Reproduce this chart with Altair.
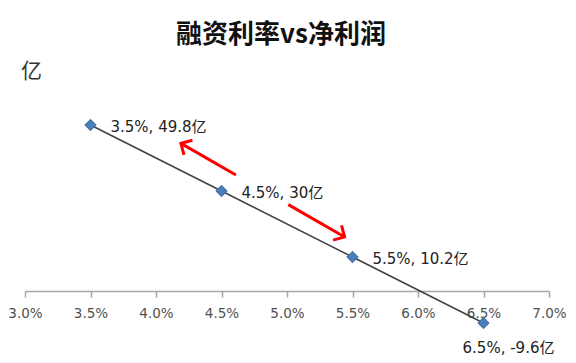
import altair as alt
import pandas as pd

# ---- data ----
rates = [3.5, 4.5, 5.5, 6.5]            # financing rate, %
profits = [49.8, 30.0, 10.2, -9.6]     # net profit, 亿
labels = ["3.5%, 49.8亿", "4.5%, 30亿", "5.5%, 10.2亿", "6.5%, -9.6亿"]
tick_values = [3.0, 3.5, 4.0, 4.5, 5.0, 5.5, 6.0, 6.5, 7.0]

# annotation arrows (data coordinates): tail -> head
arrow_x1 = [4.61, 5.01]
arrow_y1 = [34.8, 25.9]
arrow_x2 = [4.19, 5.44]
arrow_y2 = [44.3, 16.2]
arrow_angle = [300, 120]

df = pd.DataFrame({"rate": rates, "profit": profits, "label": labels})
arrows = pd.DataFrame({"x1": arrow_x1, "y1": arrow_y1, "x2": arrow_x2,
                       "y2": arrow_y2, "angle": arrow_angle})

W, H = 524, 260
YMIN, YMAX = -18, 60
zero_offset = -H * (0 - YMIN) / (YMAX - YMIN)

CJK = "Noto Sans CJK SC"
LBL = "DejaVu Sans, Noto Sans CJK SC"

xscale = alt.Scale(domain=[3.0, 7.0], nice=False, zero=False)
yscale = alt.Scale(domain=[YMIN, YMAX], nice=False, zero=False)

xax = alt.X("rate:Q", scale=xscale, title=None,
            axis=alt.Axis(values=tick_values, grid=False, offset=zero_offset,
                          labelExpr="format(datum.value, '.1f') + '%'",
                          labelFlush=False, labelOverlap=False,
                          domainColor="#A6A6A6", domainWidth=1.5,
                          tickColor="#A6A6A6", tickWidth=1.5, tickSize=6,
                          labelFont="DejaVu Sans", labelFontSize=13.5,
                          labelColor="#505050", labelPadding=9))
yax = alt.Y("profit:Q", scale=yscale, title="亿",
            axis=alt.Axis(grid=False, domain=False, ticks=False, labels=False,
                          titleAngle=0, titleX=6, titleY=-20,
                          titleAlign="center", titleBaseline="middle",
                          titleFont=CJK, titleFontSize=21,
                          titleFontWeight="normal", titleColor="#333333"))

base = alt.Chart(df)

line = base.mark_line(color="#404040", strokeWidth=1.5).encode(x=xax, y=yax)
pts = base.mark_point(shape="diamond", filled=True, size=130, opacity=1,
                      color="#4A7EBB", stroke="#3A6699", strokeWidth=1
                      ).encode(x="rate:Q", y="profit:Q")
txt = base.transform_filter("datum.rate < 6").mark_text(
    align="left", baseline="middle", dx=20, dy=2, font=LBL, fontSize=15,
    color="#222222").encode(x="rate:Q", y="profit:Q", text="label:N")
txt_last = base.transform_filter("datum.rate > 6").mark_text(
    align="center", baseline="middle", dx=25, dy=25, font=LBL, fontSize=15,
    color="#222222").encode(x="rate:Q", y="profit:Q", text="label:N")

arr_ln = alt.Chart(arrows).mark_rule(color="#FF0000", strokeWidth=3).encode(
    x="x1:Q", y="y1:Q", x2="x2:Q", y2="y2:Q")
arr_hd = alt.Chart(arrows).mark_point(
    shape="M -0.8 0.8 L 0 0 L 0.8 0.8", filled=False, size=450,
    color="#FF0000", strokeWidth=3, opacity=1, strokeJoin="miter"
).encode(x="x2:Q", y="y2:Q", angle=alt.Angle("angle:Q", scale=None))

chart = alt.layer(line, arr_ln, arr_hd, pts, txt, txt_last).properties(
    width=W, height=H,
    autosize=alt.AutoSizeParams(type="none"),
    padding={"left": 17, "top": 83, "right": 19, "bottom": 10},
    title=alt.TitleParams("融资利率vs净利润", font=CJK, fontSize=26,
                          fontWeight="bold", color="#111111",
                          anchor="middle", dx=-6, offset=12),
).configure_view(stroke=None)

chart.save("out.html", embed_options={"renderer": "svg", "actions": False})
